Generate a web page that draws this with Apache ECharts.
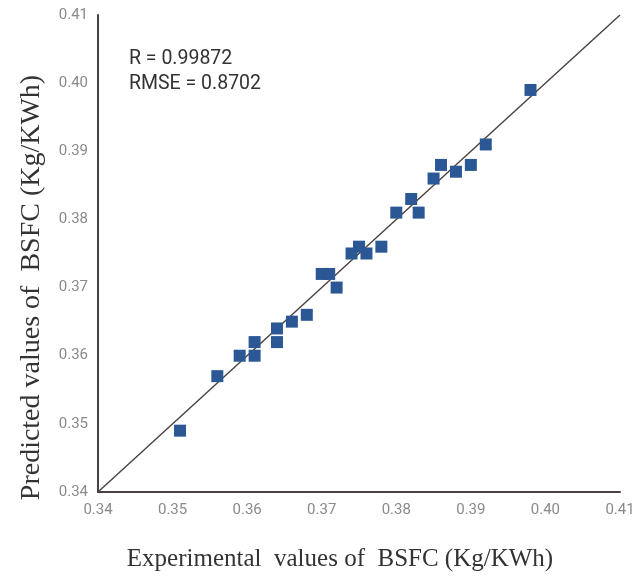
<!DOCTYPE html>
<html>
<head>
<meta charset="utf-8">
<script src="https://cdn.jsdelivr.net/npm/echarts@6/dist/echarts.min.js"></script>
<style>
    html, body { margin: 0; padding: 0; background: #fff; }
    #chart { width: 641px; height: 578px; }
</style>
</head>
<body>
<div id="chart"></div>
<script>
// 实验值 / 预测值
var experimental = [0.351, 0.356, 0.359, 0.361, 0.361, 0.364, 0.364, 0.366, 0.368, 0.370, 0.371, 0.372,
    0.374, 0.375, 0.376, 0.378, 0.380, 0.382, 0.383, 0.385, 0.386, 0.388, 0.390, 0.392, 0.398];
var predicted = [0.349, 0.357, 0.360, 0.362, 0.360, 0.364, 0.362, 0.365, 0.366, 0.372, 0.372, 0.370,
    0.375, 0.376, 0.375, 0.376, 0.381, 0.383, 0.381, 0.386, 0.388, 0.387, 0.388, 0.391, 0.399];
var refLine = [[0.34, 0.34], [0.41, 0.41]];
var axisTicks = [0.34, 0.35, 0.36, 0.37, 0.38, 0.39, 0.40, 0.41];
var statsText = ['R = 0.99872', 'RMSE = 0.8702'];

var points = experimental.map(function (x, i) {
    return [x, predicted[i]];
});

var labelStyle = {
    color: '#8a8a8a',
    fontSize: 15,
    fontFamily: 'Roboto',
    formatter: function (v) {
        return v.toFixed(2);
    }
};

var option = {
    backgroundColor: '#fff',
    animation: false,
    grid: {
        left: 98,
        right: 21,
        top: 15,
        bottom: 86,
        outerBoundsMode: 'none'
    },
    xAxis: {
        type: 'value',
        min: axisTicks[0],
        max: axisTicks[axisTicks.length - 1],
        interval: 0.01,
        name: 'Experimental  values of  BSFC (Kg/KWh)',
        nameLocation: 'middle',
        nameGap: 55,
        nameTextStyle: {color: '#333', fontSize: 25, fontFamily: 'Liberation Serif', padding: [0, 38, 0, 0]},
        axisLine: {lineStyle: {color: '#4a4242', width: 2}},
        axisTick: {show: false},
        splitLine: {show: false},
        axisLabel: Object.assign({margin: 11}, labelStyle)
    },
    yAxis: {
        type: 'value',
        min: axisTicks[0],
        max: axisTicks[axisTicks.length - 1],
        interval: 0.01,
        name: 'Predicted values of  BSFC (Kg/KWh)',
        nameLocation: 'middle',
        nameGap: 52,
        nameTextStyle: {color: '#333', fontSize: 28, fontFamily: 'Liberation Serif', padding: [0, 68, 0, 0]},
        axisLine: {show: true, lineStyle: {color: '#4a4242', width: 2}},
        axisTick: {show: false},
        splitLine: {show: false},
        axisLabel: Object.assign({margin: 10}, labelStyle)
    },
    graphic: [
        {
            type: 'text',
            left: 129,
            top: 47,
            style: {
                text: statsText.join('\n'),
                fill: '#333',
                fontSize: 19.5,
                fontFamily: 'Roboto',
                lineHeight: 25
            }
        }
    ],
    series: [
        {
            type: 'line',
            data: refLine,
            symbol: 'none',
            lineStyle: {color: '#4a3f3c', width: 1.4},
            z: 2
        },
        {
            type: 'scatter',
            data: points,
            symbol: 'rect',
            symbolSize: 12,
            itemStyle: {color: '#2b5894', opacity: 1},
            z: 3
        }
    ]
};

var chart = echarts.init(document.getElementById('chart'));
chart.setOption(option);
</script>
</body>
</html>
